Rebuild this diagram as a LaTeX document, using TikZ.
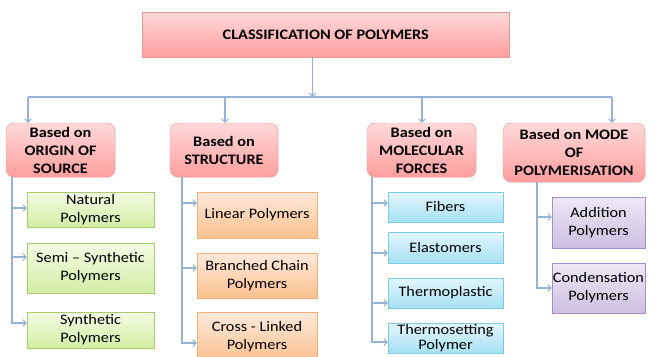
\documentclass[tikz,border=0pt]{standalone}
\usepackage{fontspec}
\setmainfont{Carlito}[FakeStretch=1.12]
\usetikzlibrary{arrows.meta, shadows}

\definecolor{lineblue}{HTML}{95B3D7}
\definecolor{pinkA}{HTML}{FFD9D9}
\definecolor{pinkB}{HTML}{FF9E9E}
\definecolor{pinkD}{HTML}{E69696}
\definecolor{greenA}{HTML}{F3FBE4}
\definecolor{greenB}{HTML}{D3EEA4}
\definecolor{greenD}{HTML}{A9CC6A}
\definecolor{orangeA}{HTML}{FDEADB}
\definecolor{orangeB}{HTML}{FAC08F}
\definecolor{orangeD}{HTML}{F5AE78}
\definecolor{blueA}{HTML}{E3F6FC}
\definecolor{blueB}{HTML}{A6E1F3}
\definecolor{blueD}{HTML}{7DCBE0}
\definecolor{purpleA}{HTML}{EEE8F6}
\definecolor{purpleB}{HTML}{CCBFE0}
\definecolor{purpleD}{HTML}{A491C4}

\tikzset{
    box/.style={align=center, inner sep=0pt, font=\fontsize{14.5}{18}\selectfont,
        drop shadow={opacity=0.18, shadow xshift=0.8pt, shadow yshift=-1.2pt}},
    headbox/.style={box, draw=pinkD, top color=pinkA, bottom color=pinkB,
        font=\fontsize{14.5}{18}\selectfont\bfseries},
    groupbox/.style={headbox, rounded corners=8pt},
    greenbox/.style={box, draw=greenD, top color=greenA, bottom color=greenB},
    orangebox/.style={box, draw=orangeD, top color=orangeA, bottom color=orangeB},
    bluebox/.style={box, draw=blueD, top color=blueA, bottom color=blueB},
    purplebox/.style={box, draw=purpleD, top color=purpleA, bottom color=purpleB},
    link/.style={draw=lineblue, line width=1.2pt},
    linkarrow/.style={link, -{Straight Barb[length=3pt,width=6.5pt]}}
}

\begin{document}
\begin{tikzpicture}[x=1pt, y=-1pt]
    \clip (0,0) rectangle (652,356);

    % top and the four groups
    \node[headbox, minimum width=367, minimum height=45](top) at (325.75,34.5) {CLASSIFICATION OF POLYMERS};

    \node[groupbox, minimum width=109, minimum height=54](origin) at (60.5,150) {Based on\\ORIGIN OF\\SOURCE};
    \node[groupbox, minimum width=108, minimum height=54](struct) at (224,150) {Based on\\STRUCTURE};
    \node[groupbox, minimum width=109, minimum height=54](forces) at (421.5,150) {Based on\\MOLECULAR\\FORCES};
    \node[groupbox, minimum width=142, minimum height=59](mode) at (574,152.5) {Based on MODE\\OF\\POLYMERISATION};

    \coordinate (hub) at (312.5,97);
    \coordinate (k1) at (28,97);
    \coordinate (k2) at (225,97);
    \coordinate (k3) at (422,97);
    \coordinate (k4) at (612,97);

    \draw[linkarrow] (top.south -| hub) -- (hub);
    \draw[link] (k1) -- (k4);
    \draw[linkarrow] (k1) -- (k1 |- origin.north);
    \draw[linkarrow] (k2) -- (k2 |- struct.north);
    \draw[linkarrow] (k3) -- (k3 |- forces.north);
    \draw[linkarrow] (k4) -- (k4 |- mode.north);

    % origin of source
    \node[greenbox, minimum width=127, minimum height=35](nat) at (90.5,209.5) {Natural\\Polymers};
    \node[greenbox, minimum width=127, minimum height=50](semi) at (90.5,268) {Semi -- Synthetic\\Polymers};
    \node[greenbox, minimum width=127, minimum height=36](syn) at (90.5,330) {Synthetic\\Polymers};

    \coordinate (r1) at (12,177);
    \draw[linkarrow] (r1) |- ([yshift=1.5pt]nat.west);
    \draw[linkarrow] (r1) |- ([yshift=11pt]semi.west);
    \draw[linkarrow] (r1) |- ([yshift=7pt]syn.west);

    % structure
    \node[orangebox, minimum width=120, minimum height=46](lin) at (257,215) {Linear Polymers};
    \node[orangebox, minimum width=120, minimum height=45](branch) at (257,275.5) {Branched Chain\\Polymers};
    \node[orangebox, minimum width=120, minimum height=50](cross) at (257,337) {Cross - Linked\\Polymers};

    \coordinate (r2) at (182,177);
    \draw[linkarrow] (r2) |- ([yshift=12pt]lin.west);
    \draw[linkarrow] (r2) |- ([yshift=7.5pt]branch.west);
    \draw[linkarrow] (r2) |- ([yshift=-6pt]cross.west);

    % molecular forces
    \node[bluebox, minimum width=115, minimum height=30](fib) at (445.5,207) {Fibers};
    \node[bluebox, minimum width=115, minimum height=31](elas) at (445.5,247.5) {Elastomers};
    \node[bluebox, minimum width=115, minimum height=30](tplast) at (445.5,293) {Thermoplastic};
    \node[bluebox, minimum width=115, minimum height=30, font=\fontsize{14.5}{15}\selectfont](tset) at (445.5,338) {Thermosetting\\Polymer};

    \coordinate (r3) at (372,177);
    \draw[linkarrow] (r3) |- ([yshift=4pt]fib.west);
    \draw[linkarrow] (r3) |- ([yshift=-5.5pt]elas.west);
    \draw[linkarrow] (r3) |- ([yshift=-10pt]tplast.west);
    \draw[linkarrow] (r3) |- ([yshift=-4pt]tset.west);

    % mode of polymerisation
    \node[purplebox, minimum width=93, minimum height=51](add) at (598.5,222.5) {Addition\\Polymers};
    \node[purplebox, minimum width=93, minimum height=50](cond) at (598.5,288) {Condensation\\Polymers};

    \coordinate (r4) at (537,182);
    \draw[linkarrow] (r4) |- ([yshift=5.5pt]add.west);
    \draw[linkarrow] (r4) |- (cond.west);
\end{tikzpicture}
\end{document}
